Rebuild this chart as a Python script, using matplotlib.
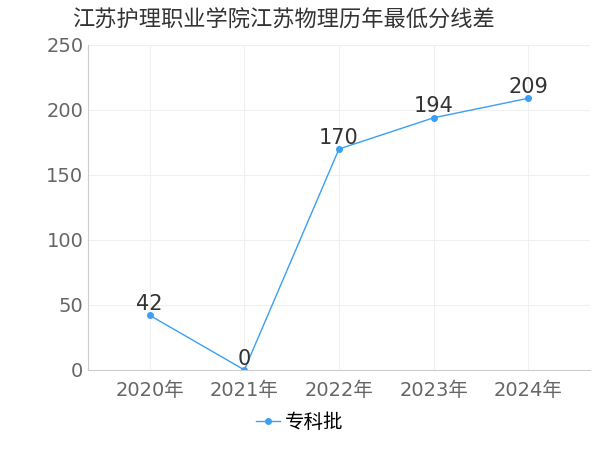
import matplotlib.pyplot as plt

plt.rcParams['font.family'] = ['DejaVu Sans', 'Noto Sans CJK SC']

years = ['2020年', '2021年', '2022年', '2023年', '2024年']
scores = [42, 0, 170, 194, 209]
yticks = [0, 50, 100, 150, 200, 250]

fig = plt.figure(figsize=(6, 4.5), dpi=100)
ax = fig.add_axes([0.147, 0.178, 0.836, 0.722])

x = range(len(years))
ax.plot(x, scores, color='#3a9ff5', linewidth=1, marker='o', markersize=4, label='专科批')
for i, v in zip(x, scores):
    ax.annotate(str(v), (i, v), textcoords='offset points', xytext=(0, 1),
                ha='center', va='bottom', fontsize=15, color='#333333')

ax.set_xlim(-0.65, len(years) - 0.35)
ax.set_ylim(0, 250)
ax.set_xticks(list(x))
ax.set_xticklabels(years)
ax.set_yticks(yticks)
ax.tick_params(axis='both', labelsize=14, colors='#666666', length=0)
ax.tick_params(axis='x', pad=8)
ax.grid(True, color='#f0f0f0', linewidth=0.8)
for s in ['top', 'right']:
    ax.spines[s].set_visible(False)
for s in ['left', 'bottom']:
    ax.spines[s].set_color('#cccccc')

fig.text(0.12, 0.955, '江苏护理职业学院江苏物理历年最低分线差', fontsize=16, color='#333333',
         va='center', family=['Noto Sans CJK SC'])
fig.legend(loc='lower center', bbox_to_anchor=(0.5, 0.0), frameon=False,
           prop={'family': 'Noto Sans CJK SC', 'size': 14},
           handlelength=1.2, handletextpad=0.3)

fig.savefig('out.png', dpi=100)
